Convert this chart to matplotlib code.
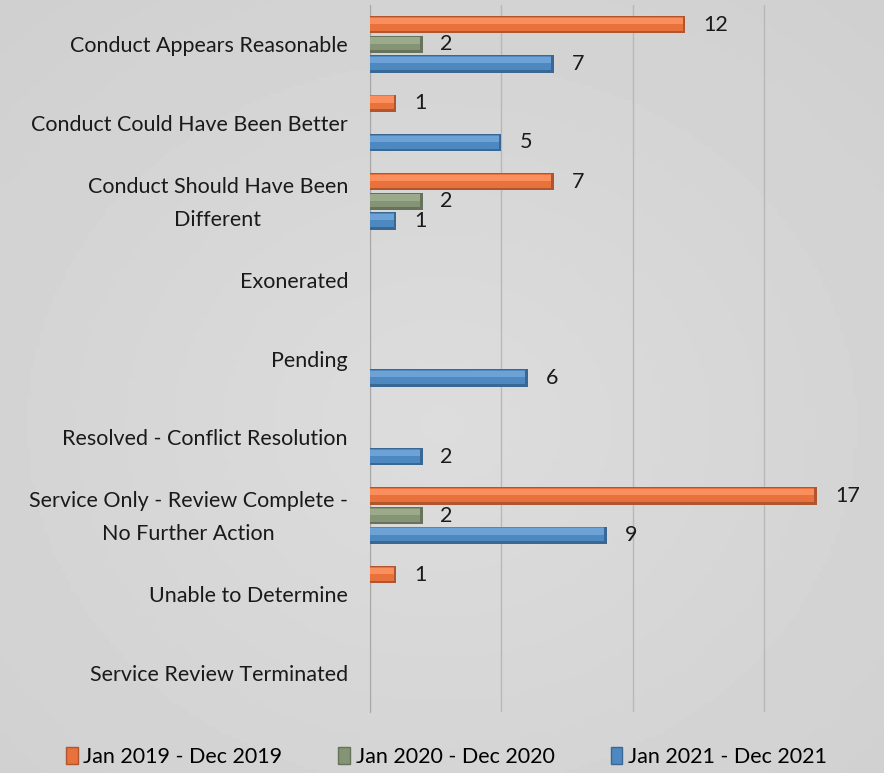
import numpy as np
import matplotlib.pyplot as plt
import matplotlib.transforms as mtransforms
from matplotlib.patches import Patch

# data
categories = [
    "Conduct Appears Reasonable",
    "Conduct Could Have Been Better",
    "Conduct Should Have Been\nDifferent",
    "Exonerated",
    "Pending",
    "Resolved - Conflict Resolution",
    "Service Only - Review Complete -\nNo Further Action",
    "Unable to Determine",
    "Service Review Terminated",
]
series_names = ["Jan 2019 - Dec 2019", "Jan 2020 - Dec 2020", "Jan 2021 - Dec 2021"]
vals_2019 = [12, 1, 7, 0, 0, 0, 17, 1, 0]
vals_2020 = [2, 0, 2, 0, 0, 0, 2, 0, 0]
vals_2021 = [7, 5, 1, 0, 6, 2, 9, 0, 0]

colors = ["#E8713C", "#849474", "#4E88C0"]
dark = ["#B0552E", "#66735A", "#3A6895"]
light = ["#FA8E5C", "#9CAA8C", "#6CA2D6"]

plt.rcParams["font.family"] = ["Lato", "DejaVu Sans"]
FS = 15.5

fig = plt.figure(figsize=(8.84, 7.73), dpi=100)

# gradient background
bg = fig.add_axes([0, 0, 1, 1], zorder=-10)
yy, xx = np.mgrid[0:1:200j, 0:1:200j]
r = np.sqrt((xx - 0.5) ** 2 + (yy - 0.55) ** 2)
bg.imshow(0.865 - 0.07 * r, cmap="gray", vmin=0, vmax=1, aspect="auto",
          extent=[0, 1, 0, 1])
bg.axis("off")

ax = fig.add_axes([370 / 884, 1 - 712 / 773, 1 - 370 / 884, (712 - 5) / 773])
ax.patch.set_alpha(0)

n = len(categories)
y = np.arange(n)
h = 0.22
step = 0.25
all_vals = [vals_2019, vals_2020, vals_2021]
for i, vals in enumerate(all_vals):
    pos = y + (i - 1) * step
    v = np.array(vals, dtype=float)
    mask = v > 0
    ax.barh(pos[mask], v[mask], height=h, color=dark[i], zorder=3)
    ax.barh(pos[mask] - h * 0.05, v[mask] - 0.1, height=h * 0.8, color=colors[i], zorder=4)
    ax.barh(pos[mask] - h * 0.22, v[mask] - 0.1, height=h * 0.36, color=light[i], zorder=5)
    for yp, val in zip(pos[mask], v[mask]):
        ax.text(val + 0.68, yp, f"{int(val)}", va="center", ha="left", fontsize=FS,
                color="#1a1a1a", zorder=6)

ax.set_ylim(n - 0.5, -0.5)
ax.set_xlim(0, 19.55)
ax.set_xticks([0, 5, 10, 15])
ax.xaxis.grid(True, color="#B8B8B8", linewidth=1, zorder=0)
ax.tick_params(axis="x", labelbottom=False, length=0)
ax.set_yticks(y)
ax.set_yticklabels([])
ax.tick_params(axis="y", length=0)

# category labels, drawn as text so multi-line ones stay centred
trans = mtransforms.blended_transform_factory(ax.transAxes, ax.transData)
trans = trans + mtransforms.ScaledTranslation(-22 / 100, -2 / 100, fig.dpi_scale_trans)
for yc, lab in zip(y, categories):
    ax.text(0, yc, lab, transform=trans, ha="right", va="center", fontsize=FS,
            color="#1a1a1a", multialignment="center", linespacing=1.85)

for s in ["top", "right", "bottom"]:
    ax.spines[s].set_visible(False)
ax.spines["left"].set_color("#A8A8A8")

handles = [Patch(facecolor=colors[i], edgecolor=dark[i]) for i in range(3)]
fig.legend(handles, series_names, loc="center", bbox_to_anchor=(0.505, 1 - 757 / 773),
           ncol=3, frameon=False, fontsize=FS, handlelength=0.55, handleheight=0.8,
           handletextpad=0.25, columnspacing=2.6)

fig.savefig("out.png", dpi=100)
